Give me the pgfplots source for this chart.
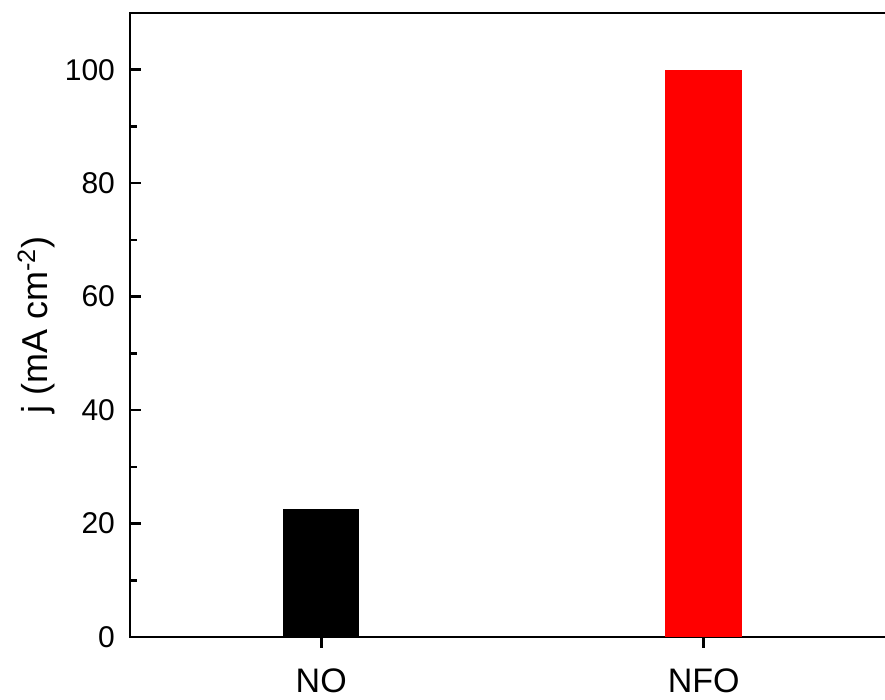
\documentclass[border=0pt]{standalone}
\usepackage{fontspec}
\setmainfont{Liberation Sans}
\usepackage{pgfplots}
\pgfplotsset{compat=1.18}
\begin{document}
\begin{tikzpicture}
\begin{axis}[
  at={(0,0)}, anchor=south west,
  scale only axis, width=382.5pt, height=312pt,
  xmin=-0.5, xmax=1.5, ymin=0, ymax=110,
  xtick={0,1}, xticklabels={NO,NFO},
  ytick={0,20,...,100}, minor ytick={10,30,...,90},
  xtick pos=bottom, ytick pos=left,
  xtick align=outside, ytick align=inside,
  major tick length=5.5pt, minor tick length=3.5pt,
  every tick/.style={black, line width=1.3pt},
  axis line style={line width=1.3pt},
  font=\fontsize{15}{18}\selectfont,
  /pgf/number format/assume math mode=true,
  yticklabel style={xshift=-4pt},
  xticklabel style={yshift=-7pt, font=\fontsize{17}{20}\selectfont},
  ylabel={j (mA cm\textsuperscript{-2})},
  ylabel style={font=\fontsize{18}{21}\selectfont, yshift=-2pt},
]
\addplot[ybar, bar width=0.2, bar shift=0pt, fill=black, draw=none] coordinates {(0,22.5)};
\addplot[ybar, bar width=0.2, bar shift=0pt, fill=red, draw=none] coordinates {(1,100)};
\end{axis}
\pgfresetboundingbox
\path (-65pt,-31.5pt) rectangle (377.5pt,318.5pt);
\end{tikzpicture}
\end{document}
